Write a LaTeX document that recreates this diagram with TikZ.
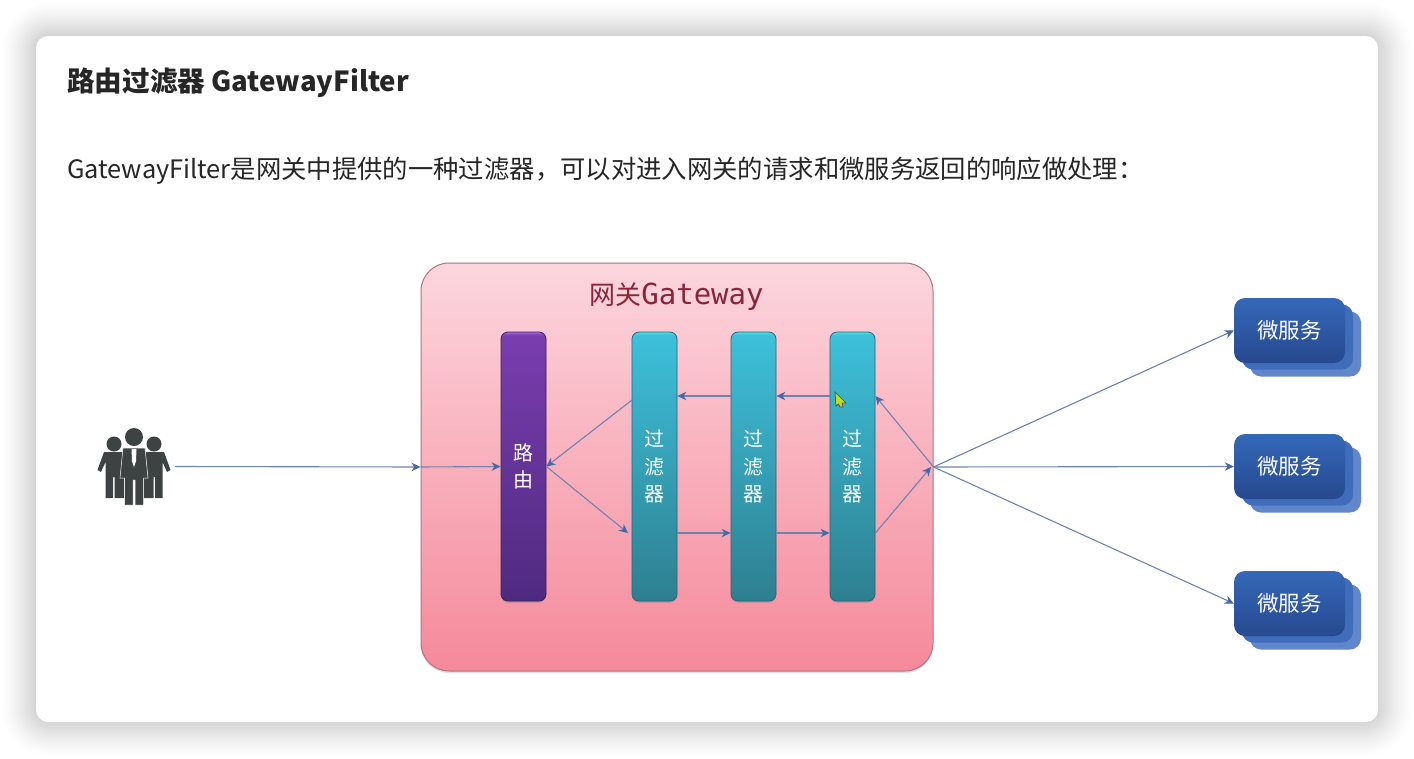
\documentclass[tikz,border=0pt]{standalone}
\usepackage{fontspec}
\setmainfont{Noto Sans CJK SC}
\newfontfamily\gatewaymono{DejaVu Sans Mono}
\usepackage{tikz}
\usetikzlibrary{arrows.meta,shadows}
\tikzset{>={Stealth[length=9pt,width=8.5pt]}}
\definecolor{linkblue}{HTML}{7083AE}
\definecolor{tipblue}{HTML}{4468A8}
\definecolor{iconcolor}{HTML}{3D4343}
\definecolor{textdark}{HTML}{262626}
\definecolor{labelred}{HTML}{8A2438}
\definecolor{gatetop}{HTML}{FCD6DE}
\definecolor{gatebottom}{HTML}{F5899A}
\definecolor{gateline}{HTML}{B5727F}
\definecolor{filterglow}{HTML}{4CDCE8}
\definecolor{filtertop}{HTML}{3DC0DA}
\definecolor{filterbottom}{HTML}{2E7F90}
\definecolor{filterline}{HTML}{2B6673}
\definecolor{routeglow}{HTML}{A468DC}
\definecolor{routetop}{HTML}{7A3DAE}
\definecolor{routebottom}{HTML}{4F2A80}
\definecolor{routeline}{HTML}{3D2163}
\definecolor{servicetop}{HTML}{3468B8}
\definecolor{servicebottom}{HTML}{27498F}
\definecolor{servicemid}{HTML}{3F6DBA}
\definecolor{serviceback}{HTML}{6187CB}
\pgfdeclareverticalshading{filtershade}{100bp}{color(0bp)=(filterbottom); color(25bp)=(filterbottom); color(74.4bp)=(filtertop); color(75bp)=(filterglow); color(100bp)=(filterglow)}
\pgfdeclareverticalshading{routeshade}{100bp}{color(0bp)=(routebottom); color(25bp)=(routebottom); color(74.4bp)=(routetop); color(75bp)=(routeglow); color(100bp)=(routeglow)}
\tikzset{
  gatewaybox/.style={rectangle,rounded corners=28pt,draw=gateline,line width=1pt,
    top color=gatetop,bottom color=gatebottom,minimum width=512pt,minimum height=408pt,
    inner sep=0pt,drop shadow={shadow xshift=0pt,shadow yshift=-2pt,opacity=.25}},
  barbox/.style={rectangle,rounded corners=7pt,minimum width=45pt,minimum height=269pt,inner sep=0pt,
    text=white,align=center,font=\fontsize{20}{27.5}\selectfont,line width=.8pt,
    drop shadow={shadow xshift=0pt,shadow yshift=-1.5pt,opacity=.5}},
  routebar/.style={barbox,draw=routeline,shading=routeshade},
  filterbar/.style={barbox,draw=filterline,shading=filtershade},
  servicefront/.style={rectangle,rounded corners=11pt,minimum width=111pt,minimum height=65pt,inner sep=0pt,
    text=white,font=\fontsize{21.5}{25}\selectfont,top color=servicetop,bottom color=servicebottom},
  servicelayer/.style={rectangle,rounded corners=11pt,minimum width=111pt,minimum height=65pt,inner sep=0pt},
  link/.style={->,draw=linkblue,line width=1.1pt,>={Stealth[length=9pt,width=8.5pt,color=tipblue]}},
}
\begin{document}
\begin{tikzpicture}[x=1pt,y=-1pt]
  \useasboundingbox (0,0) rectangle (1414,758);
  % window and its shadow
  \foreach \i [evaluate=\i as \d using 38*(1-(\i/22)^0.7)] in {1,...,22}
    \fill[black,opacity=.008,rounded corners={14pt+\d*1pt}] (36-\d,36-\d) rectangle (1378+\d,722+\d);
  \fill[white,rounded corners=12pt] (36,36) rectangle (1378,722);
  % texts
  \node (title) at (67,83) [anchor=west,inner sep=0pt,text=textdark,font=\fontsize{27.6}{32}\selectfont\bfseries] {路由过滤器 GatewayFilter};
  \node (intro) at (67,171) [anchor=west,inner sep=0pt,text=textdark,font=\fontsize{25.36}{30}\selectfont] {GatewayFilter是网关中提供的一种过滤器，可以对进入网关的请求和微服务返回的响应做处理：};
  % gateway
  \node (gateway) at (677,467) [gatewaybox] {};
  \node (gatewaylabel) at (676.5,297) [inner sep=0pt,text=labelred,font=\fontsize{26}{30}\selectfont] {网关{\gatewaymono\fontsize{29}{30}\selectfont Gateway}};
  \node (route) at (523.5,466.5) [routebar] {路\\由};
  \node (filterA) at (654.5,466.5) [filterbar] {过\\滤\\器};
  \node (filterB) at (753.5,466.5) [filterbar] {过\\滤\\器};
  \node (filterC) at (852.5,466.5) [filterbar] {过\\滤\\器};
  % services
  \node (serviceAback) at (1305.5,344) [servicelayer,fill=serviceback] {};
  \node (serviceAmid) at (1297.5,337) [servicelayer,fill=servicemid] {};
  \node (serviceA) at (1289.5,330.5) [servicefront] {微服务};
  \node (serviceBback) at (1305.5,480) [servicelayer,fill=serviceback] {};
  \node (serviceBmid) at (1297.5,473) [servicelayer,fill=servicemid] {};
  \node (serviceB) at (1289.5,466.5) [servicefront] {微服务};
  \node (serviceCback) at (1305.5,617) [servicelayer,fill=serviceback] {};
  \node (serviceCmid) at (1297.5,610) [servicelayer,fill=servicemid] {};
  \node (serviceC) at (1289.5,603.5) [servicefront] {微服务};
  % users icon
  \fill[iconcolor] (114,444) circle (7.5) (154,444) circle (7.5);
  \fill[iconcolor] (104,452) -- (97.5,470) -- (101,472) -- (105.5,462) -- (105.5,498) -- (113,498) -- (113,477) -- (114.5,477) -- (114.5,498) -- (124,498) -- (124,452) -- cycle;
  \fill[iconcolor] (164,452) -- (170.5,470) -- (167,472) -- (162.5,462) -- (162.5,498) -- (155,498) -- (155,477) -- (153.5,477) -- (153.5,498) -- (144,498) -- (144,452) -- cycle;
  \fill[iconcolor,draw=white,line width=.5pt] (123,448) -- (145,448) -- (148,478) -- (143.5,478) -- (143.5,505) -- (135,505) -- (135,480) -- (133,480) -- (133,505) -- (124.5,505) -- (124.5,478) -- (120,478) -- cycle;
  \fill[iconcolor] (134,437) circle (9);
  \fill[white] (131.5,449) -- (136.5,449) -- (136,461) -- (134,467) -- (132,461) -- cycle;
  \node (users) at (134,466.5) [minimum width=82pt,minimum height=80pt,inner sep=0pt] {};
  % cursor
  \fill[yellow!75!green,draw=black!70,line width=.7pt] (835,392) -- (846,403) -- (842,403) -- (843,407) -- (840,407) -- (838.5,404) -- (836,406) -- cycle;
  % connectors
  \coordinate (filterAtop) at (632,400);
  \coordinate (filterAin) at (628,533);
  \coordinate (gatewayin) at (931,467);
  \draw[link] (users.east) to (gateway.west);
  \draw[link] (gateway.west) to (route.west);
  \draw[link] (filterAtop) to (route.east);
  \draw[link] (route.east) to (filterAin);
  \draw[link] ([yshift=70.5pt]filterB.west) to ([yshift=70.5pt]filterA.east);
  \draw[link] ([yshift=70.5pt]filterC.west) to ([yshift=70.5pt]filterB.east);
  \draw[link] ([yshift=-66.5pt]filterA.east) to ([yshift=-66.5pt]filterB.west);
  \draw[link] ([yshift=-66.5pt]filterB.east) to ([yshift=-66.5pt]filterC.west);
  \draw[link] ([yshift=-66.5pt]filterC.east) to (gatewayin);
  \draw[link] (gateway.east) to ([yshift=70.5pt]filterC.east);
  \draw[link] (gateway.east) to (serviceA.west);
  \draw[link] (gateway.east) to (serviceB.west);
  \draw[link] (gateway.east) to (serviceC.west);
\end{tikzpicture}
\end{document}
